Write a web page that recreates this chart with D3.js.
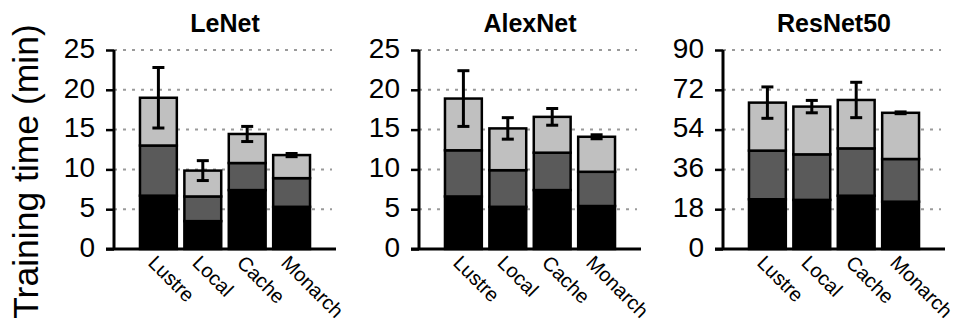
<!DOCTYPE html>
<html>
<head>
<meta charset="utf-8">
<script src="https://cdn.jsdelivr.net/npm/d3@7"></script>
<style>
  body { margin: 0; background: #fff; }
  svg { font-family: "Liberation Sans", Arial, sans-serif; }
</style>
</head>
<body>
<div id="container"></div>
<script>
// chart data
var models = ["LeNet", "AlexNet", "ResNet50"];
var systems = ["Lustre", "Local", "Cache", "Monarch"];

// stacked parts of the training time (min), bottom to top
var partBottom = [[6.7, 3.5, 7.4, 5.3], [6.6, 5.3, 7.4, 5.4], [22.5, 22.2, 24.1, 21.4]];
var partMiddle = [[6.3, 3.1, 3.4, 3.6], [5.8, 4.6, 4.7, 4.3], [22.0, 20.6, 21.4, 19.3]];
var partTop = [[6.0, 3.25, 3.65, 2.9], [6.5, 5.25, 4.5, 4.4], [21.7, 21.6, 21.9, 20.9]];
// error on total
var errors = [[3.8, 1.25, 0.95, 0.2], [3.5, 1.35, 1.05, 0.25], [7.1, 2.8, 8.0, 0.4]];

var yMax = [25, 25, 90];
var yTicks = [[0, 5, 10, 15, 20, 25], [0, 5, 10, 15, 20, 25], [0, 18, 36, 54, 72, 90]];

var partColors = ["#000000", "#5a5a5a", "#c0c0c0"];

// layout
var width = 957, height = 322;
var panelLeft = [114, 419, 723],
    panelWidth = 222,
    plotTop = 50,
    plotBottom = 249;

var svg = d3.select("#container").append("svg")
    .attr("width", width)
    .attr("height", height);

// y axis title
svg.append("text")
    .attr("transform", "translate(38," + 171.5 + ") rotate(-90)")
    .attr("text-anchor", "middle")
    .style("font-size", "35.5px")
    .text("Training time (min)");

models.forEach(function(model, m) {

    var x = d3.scaleLinear()
        .domain([0, 5])
        .range([panelLeft[m], panelLeft[m] + panelWidth]);

    var y = d3.scaleLinear()
        .domain([0, yMax[m]])
        .range([plotBottom, plotTop]);

    var g = svg.append("g");

    // dotted grid lines
    g.selectAll(".grid")
        .data(yTicks[m].slice(1))
        .enter().append("line")
        .attr("class", "grid")
        .attr("x1", x(0))
        .attr("x2", x(5) - 4)
        .attr("y1", function(d) { return y(d); })
        .attr("y2", function(d) { return y(d); })
        .style("stroke", "#9a9a9a")
        .style("stroke-width", 2)
        .style("stroke-dasharray", "3,6");

    // build stacks
    var rows = systems.map(function(s, i) {
        var a = partBottom[m][i], b = partMiddle[m][i], c = partTop[m][i];
        return {
            name: s, pos: i + 1,
            segs: [[0, a], [a, a + b], [a + b, a + b + c]],
            total: a + b + c, err: errors[m][i]
        };
    });

    var barW = (x(1) - x(0)) * 0.83;

    rows.forEach(function(r) {
        g.selectAll(null)
            .data(r.segs)
            .enter().append("rect")
            .attr("x", x(r.pos) - barW / 2)
            .attr("width", barW)
            .attr("y", function(d) { return y(d[1]); })
            .attr("height", function(d) { return y(d[0]) - y(d[1]); })
            .style("fill", function(d, k) { return partColors[k]; })
            .style("stroke", "#000")
            .style("stroke-width", 2.5);

        // error bar
        var cx = x(r.pos), capW = 6;
        var eg = g.append("g")
            .style("stroke", "#000")
            .style("stroke-width", 3);
        eg.append("line")
            .attr("x1", cx).attr("x2", cx)
            .attr("y1", y(r.total + r.err)).attr("y2", y(r.total - r.err));
        eg.append("line")
            .attr("x1", cx - capW).attr("x2", cx + capW)
            .attr("y1", y(r.total + r.err)).attr("y2", y(r.total + r.err));
        eg.append("line")
            .attr("x1", cx - capW).attr("x2", cx + capW)
            .attr("y1", y(r.total - r.err)).attr("y2", y(r.total - r.err));
    });

    // y axis
    var yAxis = g.append("g")
        .attr("transform", "translate(" + x(0) + ",0)")
        .call(d3.axisLeft(y).tickValues(yTicks[m]).tickSize(8).tickPadding(11));
    yAxis.select(".domain")
        .attr("d", "M0," + (plotTop) + "V" + plotBottom)
        .style("stroke-width", 3);
    yAxis.selectAll(".tick line").style("stroke-width", 2.5);
    yAxis.selectAll(".tick text")
        .style("font-size", "28px")
        .style("font-family", "Liberation Sans, Arial, sans-serif")
        .attr("dy", "0.26em");

    // x axis line
    g.append("line")
        .attr("x1", x(0) - 8)
        .attr("x2", x(5))
        .attr("y1", plotBottom)
        .attr("y2", plotBottom)
        .style("stroke", "#000")
        .style("stroke-width", 3);

    // rotated category labels
    g.selectAll(".xlab")
        .data(rows)
        .enter().append("text")
        .attr("class", "xlab")
        .attr("transform", function(d) {
            return "translate(" + (x(d.pos) - 11.5) + "," + (plotBottom + 15) + ") rotate(45)";
        })
        .style("font-size", "20px")
        .text(function(d) { return d.name; });

    // panel title
    g.append("text")
        .attr("x", x(2.5))
        .attr("y", 32)
        .attr("text-anchor", "middle")
        .style("font-size", "25px")
        .style("font-weight", "bold")
        .text(model);
});
</script>
</body>
</html>
